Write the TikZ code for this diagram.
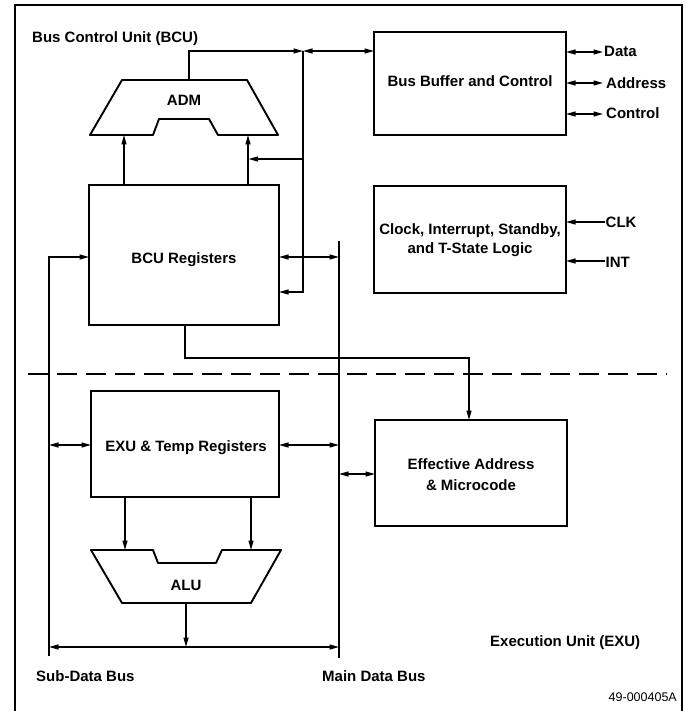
\documentclass[tikz,border=0pt]{standalone}
\usepackage{fontspec}
\setmainfont{Liberation Sans}
\usetikzlibrary{arrows.meta}
\begin{document}
\begin{tikzpicture}[x=1pt,y=-1pt,
  lbl/.style={font=\fontsize{15}{18}\selectfont\bfseries, inner sep=0pt, anchor=base},
  lblw/.style={lbl, anchor=base west},
  blk/.style={draw, line width=1.9pt, inner sep=0pt, outer sep=0pt},
  wire/.style={line width=1.2pt},
  tip/.style={-{Triangle[length=9.5pt,width=5pt]}},
  dtip/.style={{Triangle[length=9.5pt,width=5pt]}-{Triangle[length=9.5pt,width=5pt]}}
]
\useasboundingbox (0,0) rectangle (686,711);
% frame
\draw[line width=1.6pt] (15,713) -- (15,5) -- (682,5) -- (682,713);

% blocks
\node[blk, minimum width=190pt, minimum height=140pt] (bcu) at (184,255) {};
\node[blk, minimum width=192pt, minimum height=103pt] (bbc) at (470,83.5) {};
\node[blk, minimum width=192pt, minimum height=107pt] (clk) at (470,239.5) {};
\node[blk, minimum width=188pt, minimum height=106pt] (exu) at (185,444) {};
\node[blk, minimum width=192pt, minimum height=106pt] (ea) at (471,473) {};

% ADM and ALU shapes
\draw[line width=1.9pt, line join=round] (122,80) -- (247,80) -- (278,135) -- (218,135) -- (209,119) -- (159,119) -- (153,135) -- (90,135) -- cycle;
\draw[line width=1.9pt, line join=round] (91,550) -- (153,550) -- (158,563) -- (216,563) -- (222,550) -- (281,550) -- (251,603) -- (122,603) -- cycle;

% labels
\node[lblw] (tbcu) at (32,43) {Bus Control Unit (BCU)};
\node[lbl] (tadm) at (184,106) {ADM};
\node[lbl] (tbbc) at (470,87) {Bus Buffer and Control};
\node[lblw] (tdata) at (604,57) {Data};
\node[lblw] (taddr) at (606,89) {Address};
\node[lblw] (tctl) at (606,119) {Control};
\node[lbl] (tclk1) at (470,234) {Clock, Interrupt, Standby,};
\node[lbl] (tclk2) at (470,253) {and T-State Logic};
\node[lblw] (tck) at (605.5,227) {CLK};
\node[lblw] (tint) at (605.5,267) {INT};
\node[lbl] (tbcur) at (184,263) {BCU Registers};
\node[lbl] (texu) at (186,451) {EXU \& Temp Registers};
\node[lbl] (tea1) at (471,469) {Effective Address};
\node[lbl] (tea2) at (471,490) {\& Microcode};
\node[lbl] (talu) at (186,590) {ALU};
\node[lblw] (texec) at (490,646) {Execution Unit (EXU)};
\node[lblw] (tsub) at (36,681) {Sub-Data Bus};
\node[lblw] (tmain) at (322,681) {Main Data Bus};
\node[font=\fontsize{12.5}{15}\selectfont, inner sep=0pt, anchor=base east] (tnum) at (677,701) {49-000405A};

% coordinates
\coordinate (admtop) at (189,80);
\coordinate (j) at (303,51);
\coordinate (jb) at (303,292);
\coordinate (admin1) at (124,135);
\coordinate (admin2) at (248,135);
\coordinate (mbtop) at (339,241);
\coordinate (mbbot) at (339,658);
\coordinate (sbbot) at (49,656);
\coordinate (sbtop) at (49,257);
\coordinate (alin1) at (125,550);
\coordinate (alin2) at (251,550);
\coordinate (alout) at (186,603);
\coordinate (dl) at (28,374);
\coordinate (dr) at (667,374);
\coordinate (cdata) at (603,52);
\coordinate (caddr) at (603,83);
\coordinate (cctl) at (603,114);
\coordinate (cck) at (605,222);
\coordinate (cint) at (605,261);

% wires
\draw[wire, tip] (admtop) -- (189,51) -- (j);
\draw[wire, dtip] (j) -- (bbc.west |- j);
\draw[wire, tip] (j) -- (jb) -- (bcu.east |- jb);
\draw[wire, tip] (303,159) -- (248.5,159);
\draw[wire, tip] (admin1 |- bcu.north) -- (admin1);
\draw[wire, tip] (admin2 |- bcu.north) -- (admin2);
\draw[wire, dtip] (bcu.east |- 0,257) -- (339,257);
\draw[wire] (mbtop) -- (mbbot);
\draw[wire, tip] (sbbot) -- (sbtop) -- (bcu.west |- sbtop);
\draw[wire, tip] (185,325) -- (185,358) -- (469,358) -- (469,420);
\draw[line width=1.4pt, dash pattern=on 20pt off 9pt] (dl) -- (dr);
\draw[wire, dtip] (bbc.east |- cdata) -- (cdata);
\draw[wire, dtip] (bbc.east |- caddr) -- (caddr);
\draw[wire, dtip] (bbc.east |- cctl) -- (cctl);
\draw[wire, tip] (cck) -- (clk.east |- cck);
\draw[wire, tip] (cint) -- (clk.east |- cint);
\draw[wire, dtip] (49,445) -- (exu.west |- 0,445);
\draw[wire, dtip] (exu.east |- 0,445) -- (339,445);
\draw[wire, dtip] (339,474) -- (ea.west |- 0,474);
\draw[wire, tip] (alin1 |- exu.south) -- (alin1);
\draw[wire, tip] (alin2 |- exu.south) -- (alin2);
\draw[wire, tip] (alout) -- (186,647);
\draw[wire, dtip] (49,647) -- (339,647);
\end{tikzpicture}
\end{document}
